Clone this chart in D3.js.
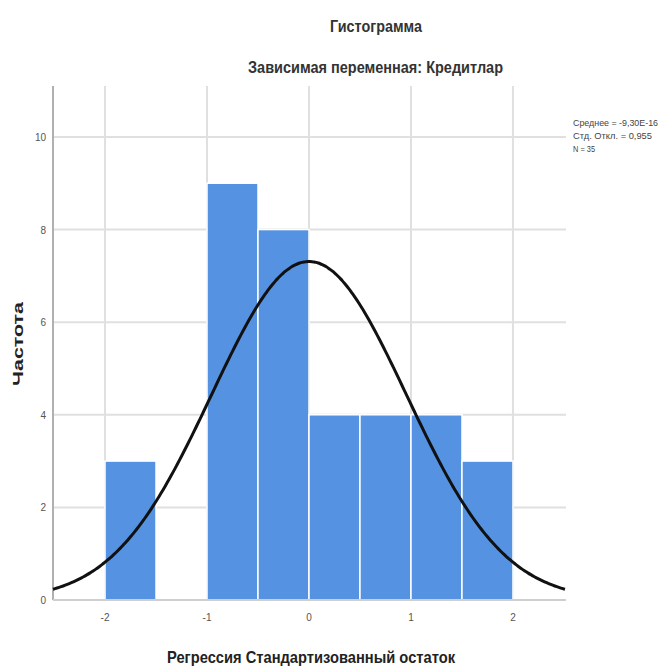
<!DOCTYPE html>
<html>
<head>
<meta charset="utf-8">
<script src="https://cdn.jsdelivr.net/npm/d3@7"></script>
<style>
  body { margin: 0; background: #fff; }
  text { font-family: "Liberation Sans Narrow", "Liberation Sans", Arial, sans-serif; }
</style>
</head>
<body>
<svg id="chart" width="665" height="669"></svg>
<script>
const binStarts = [-2, -1.5, -1, -0.5, 0, 0.5, 1, 1.5];
const counts = [3, 0, 9, 8, 4, 4, 4, 3];
const binWidth = 0.5;
const xTicks = [-2, -1, 0, 1, 2];
const yTicks = [0, 2, 4, 6, 8, 10];
const meanValue = 0;
const stdValue = 0.955;
const nValue = 35;
const legendLines = ["Среднее = -9,30E-16", "Стд. Откл. = 0,955", "N = 35"];

const svg = d3.select("#chart");

const x = d3.scaleLinear().domain([-2.51, 2.52]).range([53, 566]);
const y = d3.scaleLinear().domain([0, 11.1]).range([600, 86]);

// сетка
const grid = svg.append("g").attr("stroke", "#e0e0e0").attr("stroke-width", 2);
grid.selectAll("line.v")
  .data(xTicks)
  .enter().append("line")
  .attr("x1", d => x(d)).attr("x2", d => x(d))
  .attr("y1", y.range()[1]).attr("y2", y(0));
grid.selectAll("line.h")
  .data(yTicks.filter(d => d > 0))
  .enter().append("line")
  .attr("x1", x.range()[0]).attr("x2", x.range()[1])
  .attr("y1", d => y(d)).attr("y2", d => y(d));

// столбцы
svg.append("g")
  .selectAll("rect")
  .data(binStarts.map((s, i) => ({ s, c: counts[i] })).filter(d => d.c > 0))
  .enter().append("rect")
  .attr("x", d => x(d.s))
  .attr("width", d => x(d.s + binWidth) - x(d.s))
  .attr("y", d => y(d.c))
  .attr("height", d => y(0) - y(d.c))
  .attr("fill", "#5592e2")
  .attr("stroke", "#ffffff")
  .attr("stroke-width", 1.5);

// оси
svg.append("line")
  .attr("x1", x.range()[0]).attr("x2", x.range()[0])
  .attr("y1", y.range()[1]).attr("y2", y(0))
  .attr("stroke", "#b0b0b0").attr("stroke-width", 2);
svg.append("line")
  .attr("x1", x.range()[0]).attr("x2", x.range()[1])
  .attr("y1", y(0)).attr("y2", y(0))
  .attr("stroke", "#cfcfcf").attr("stroke-width", 2);

svg.append("g")
  .selectAll("text")
  .data(yTicks)
  .enter().append("text")
  .attr("x", 46).attr("y", d => y(d) + 4)
  .attr("text-anchor", "end")
  .attr("font-size", 10)
  .attr("fill", "#555")
  .text(d => d);

svg.append("g")
  .selectAll("text")
  .data(xTicks)
  .enter().append("text")
  .attr("x", d => x(d)).attr("y", 621)
  .attr("text-anchor", "middle")
  .attr("font-size", 10)
  .attr("fill", "#555")
  .text(d => d);

// нормальная кривая
const curveXs = d3.range(x.domain()[0], x.domain()[1] + 0.001, 0.02);
const density = v => nValue * binWidth / (stdValue * Math.sqrt(2 * Math.PI)) *
  Math.exp(-0.5 * Math.pow((v - meanValue) / stdValue, 2));
svg.append("path")
  .datum(curveXs)
  .attr("fill", "none")
  .attr("stroke", "#111")
  .attr("stroke-width", 3)
  .attr("d", d3.line().x(d => x(d)).y(d => y(density(d))).curve(d3.curveBasis));

// заголовки (узкий шрифт — через textLength)
function label(xPos, yPos, str, size, len, color) {
  return svg.append("text")
    .attr("x", xPos).attr("y", yPos)
    .attr("font-size", size).attr("font-weight", "bold").attr("fill", color)
    .attr("textLength", len).attr("lengthAdjust", "spacingAndGlyphs")
    .text(str);
}
label(330, 32, "Гистограмма", 16, 92, "#333");
label(248, 73, "Зависимая переменная: Кредитлар", 16, 255, "#333");
label(167, 663, "Регрессия Стандартизованный остаток", 17, 288, "#222");
label(0, 0, "Частота", 15, 84, "#222")
  .attr("transform", "translate(23,386) rotate(-90)");

// легенда
svg.append("g")
  .selectAll("text")
  .data(legendLines)
  .enter().append("text")
  .attr("x", 573).attr("y", (d, i) => 126 + i * 13)
  .attr("font-size", 9)
  .attr("fill", "#444")
  .attr("textLength", (d, i) => [85, 79, 22][i])
  .attr("lengthAdjust", "spacingAndGlyphs")
  .text(d => d);
</script>
</body>
</html>
